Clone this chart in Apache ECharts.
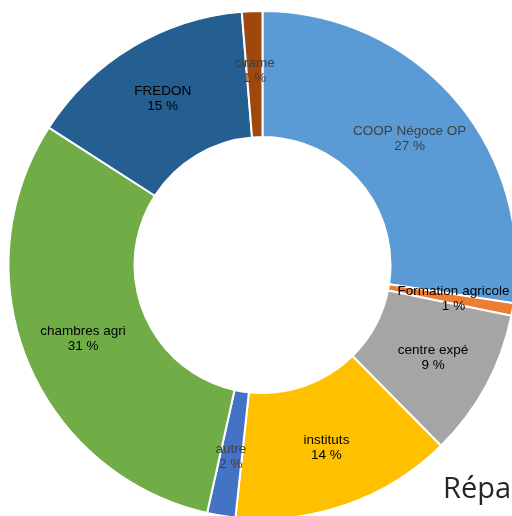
<!DOCTYPE html>
<html>
<head>
<meta charset="utf-8">
<script src="https://cdn.jsdelivr.net/npm/echarts@6/dist/echarts.min.js"></script>
<style>html,body{margin:0;padding:0;background:#fff}#c{width:512px;height:516px}</style>
</head>
<body>
<div id="c"></div>
<script>
var categories = ['COOP Négoce OP', 'Formation agricole', 'centre expé', 'instituts', 'autre', 'chambres agri', 'FREDON', 'cirame'];
var values = [27.4, 0.8, 9.4, 14.1, 1.8, 30.6, 14.6, 1.3];
var colors = ['#5B9BD5', '#ED7D31', '#A5A5A5', '#FFC000', '#4472C4', '#70AD47', '#255E91', '#9E480E'];
var labelColors = ['#404040', '#000000', '#000000', '#000000', '#404040', '#000000', '#000000', '#404040'];
var titleText = 'Répartition';

var chart = echarts.init(document.getElementById('c'), null, {renderer: 'canvas'});
chart.setOption({
  animation: false,
  title: {
    text: titleText,
    left: 438,
    top: 470,
    textStyle: {fontFamily: 'Open Sans', fontSize: 29, fontWeight: 'normal', color: '#262626'}
  },
  series: [{
    type: 'pie',
    center: [262.5, 265],
    radius: [128, 254],
    startAngle: 90,
    clockwise: true,
    avoidLabelOverlap: false,
    emphasis: {disabled: true},
    itemStyle: {borderColor: '#ffffff', borderWidth: 2},
    labelLine: {show: false},
    label: {
      show: true,
      position: 'inside',
      fontFamily: 'Liberation Sans',
      fontSize: 13.5,
      lineHeight: 15,
      formatter: function (p) { return p.name + '\n' + Math.round(p.percent) + ' %'; }
    },
    data: categories.map(function (n, i) {
      return {name: n, value: values[i], itemStyle: {color: colors[i]}, label: {color: labelColors[i]}};
    })
  }]
});
</script>
</body>
</html>
